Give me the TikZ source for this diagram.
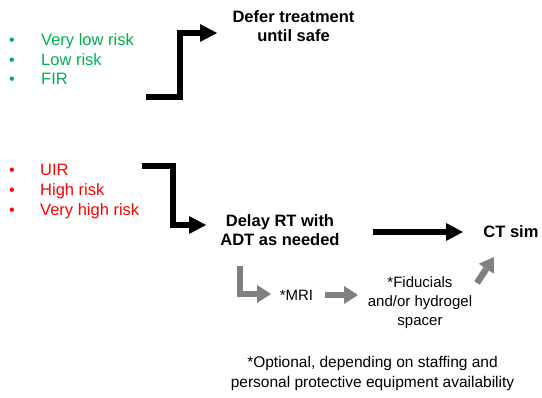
\documentclass[tikz,border=0pt]{standalone}
\usepackage{fontspec}
\setmainfont{Liberation Sans}
\usetikzlibrary{arrows.meta}
\definecolor{riskgreen}{RGB}{0,176,80}
\definecolor{riskred}{RGB}{255,0,0}
\definecolor{arrowgray}{RGB}{128,128,128}
\begin{document}
\begin{tikzpicture}[x=1pt,y=-1pt,
  bul/.style={anchor=base, inner sep=0pt, font=\fontsize{16}{19}\selectfont},
  item/.style={anchor=base west, inner sep=0pt, font=\fontsize{16.5}{19}\selectfont},
  boldtxt/.style={align=center, anchor=north, inner sep=0pt, font=\fontsize{16.5}{19.5}\selectfont\bfseries},
  notetxt/.style={align=center, anchor=north, inner sep=0pt, font=\fontsize{15}{19}\selectfont},
  blk/.style={draw=black, line width=6pt, line join=miter, line cap=butt,
    -{Triangle[length=17pt,width=18pt,line width=0pt]}},
  gry/.style={draw=arrowgray, line width=6.5pt, line join=miter, line cap=butt,
    -{Triangle[length=14pt,width=18pt,line width=0pt]}},
]
\useasboundingbox (0,0) rectangle (542,398);

% green list
\node[bul, text=riskgreen] (gb1) at (12,45.8) {\textbullet};
\node[bul, text=riskgreen] (gb2) at (12,65.3) {\textbullet};
\node[bul, text=riskgreen] (gb3) at (12,84.8) {\textbullet};
\node[item, text=riskgreen] (gt1) at (41,45.8) {Very low risk};
\node[item, text=riskgreen] (gt2) at (41,65.3) {Low risk};
\node[item, text=riskgreen] (gt3) at (41,84.8) {FIR};

% red list
\node[bul, text=riskred] (rb1) at (12,176) {\textbullet};
\node[bul, text=riskred] (rb2) at (12,196) {\textbullet};
\node[bul, text=riskred] (rb3) at (12,216) {\textbullet};
\node[item, text=riskred] (rt1) at (40,176) {UIR};
\node[item, text=riskred] (rt2) at (40,196) {High risk};
\node[item, text=riskred] (rt3) at (40,216) {Very high risk};

% main texts
\node[boldtxt] (defer) at (293.5,10) {Defer treatment\\until safe};
\node[boldtxt] (delay) at (280,214) {Delay RT with\\ADT as needed};
\node[boldtxt, anchor=center] (ct) at (511,232) {CT sim};
\node[notetxt, anchor=center] (mri) at (296.5,295) {*MRI};
\node[notetxt] (fid) at (420,276) {*Fiducials\\and/or hydrogel\\spacer};
\node[notetxt, font=\fontsize{15.5}{20}\selectfont] (note) at (372.5,356)
  {*Optional, depending on staffing and\\personal protective equipment availability};

% arrow end points
\coordinate (a1s) at (146,97);  \coordinate (a1e) at (217,33);
\coordinate (a2s) at (142,166); \coordinate (a2e) at (206,225);
\coordinate (a3s) at (373,232); \coordinate (a3e) at (463,232);
\coordinate (g1s) at (240,266); \coordinate (g1e) at (271,294);
\coordinate (g2s) at (325,295); \coordinate (g2e) at (358,295);
\coordinate (g3s) at (477,283); \coordinate (g3e) at (494,257);

\draw[blk] (a1s) -- ++(34,0) |- (a1e);
\draw[blk] (a2s) -- ++(31,0) |- (a2e);
\draw[blk] (a3s) -- (a3e);
\draw[gry] (g1s) |- (g1e);
\draw[gry] (g2s) -- (g2e);
\draw[gry] (g3s) -- (g3e);
\end{tikzpicture}
\end{document}
